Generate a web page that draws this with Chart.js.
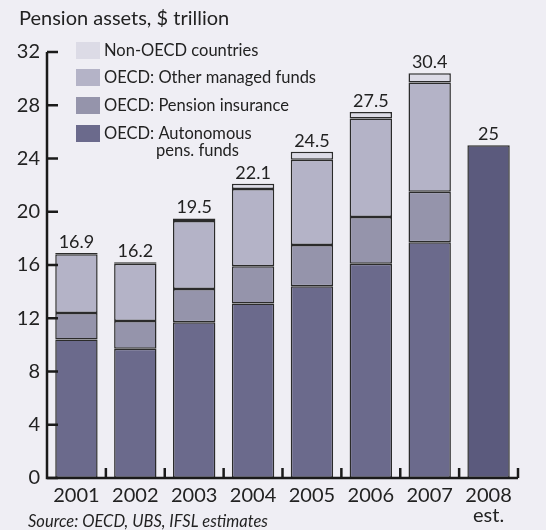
<!DOCTYPE html>
<html><head><meta charset="utf-8">
<script src="https://cdn.jsdelivr.net/npm/chart.js@4"></script>
<style>
html,body{margin:0;padding:0;background:#efeef4;}
#wrap{position:relative;width:546px;height:530px;}
</style></head>
<body><div id="wrap"><canvas id="c" width="546" height="530"></canvas></div>
<script>
const categories = [["2001"],["2002"],["2003"],["2004"],["2005"],["2006"],["2007"],["2008","est."]];
const autonomous = [10.4, 9.7, 11.7, 13.1, 14.4, 16.1, 17.7, null];
const pensionInsurance = [2.0, 2.1, 2.5, 2.8, 3.1, 3.5, 3.8, null];
const otherManaged = [4.4, 4.3, 5.1, 5.8, 6.4, 7.4, 8.2, null];
const nonOECD = [0.1, 0.1, 0.2, 0.4, 0.6, 0.5, 0.7, null];
const estimate2008 = [null, null, null, null, null, null, null, 25];
const totalLabels = ["16.9","16.2","19.5","22.1","24.5","27.5","30.4","25"];
const yTicks = [0,4,8,12,16,20,24,28,32];
const legendLabels = [["Non-OECD countries"],["OECD: Other managed funds"],["OECD: Pension insurance"],["OECD: Autonomous","pens. funds"]];

const FONT = "Lato, 'Noto Sans', sans-serif";
const C_AUTO = '#6b6a8c', C_PI = '#9594ab', C_OM = '#b4b3c7', C_NON = '#dcdbe6', C_EST = '#5b5a7d';
const BORDER = '#2b2b2b';

const bg = {
  id:'bg',
  beforeDraw(chart){
    const ctx = chart.ctx; ctx.save(); ctx.fillStyle='#efeef4';
    ctx.fillRect(0,0,chart.width,chart.height); ctx.restore();
  }
};

const deco = {
  id:'deco',
  afterDraw(chart){
    const ctx = chart.ctx, x = chart.scales.x, y = chart.scales.y, ca = chart.chartArea;
    ctx.save();
    ctx.strokeStyle = '#1a1a1a'; ctx.lineWidth = 2.5;
    ctx.beginPath();
    ctx.moveTo(ca.left, y.getPixelForValue(32)); ctx.lineTo(ca.left, ca.bottom);
    ctx.lineTo(ca.right, ca.bottom); ctx.stroke();
    yTicks.forEach(v => {
      const py = y.getPixelForValue(v);
      ctx.beginPath(); ctx.moveTo(ca.left, py); ctx.lineTo(ca.left + 11, py); ctx.stroke();
    });
    const n = categories.length;
    const step = x.getPixelForValue(1) - x.getPixelForValue(0);
    for (let i = 0; i < n; i++) {
      const px = x.getPixelForValue(i) + step / 2;
      ctx.beginPath(); ctx.moveTo(px, ca.bottom); ctx.lineTo(px, ca.bottom - 10); ctx.stroke();
    }
    ctx.fillStyle = '#222'; ctx.font = '18px ' + FONT; ctx.textAlign = 'center'; ctx.textBaseline = 'alphabetic';
    for (let i = 0; i < n; i++) {
      let tot = 0;
      chart.data.datasets.forEach(ds => { if (ds.data[i] != null) tot += ds.data[i]; });
      ctx.fillText(totalLabels[i], x.getPixelForValue(i), y.getPixelForValue(tot) - 5);
    }
    ctx.textAlign = 'left'; ctx.font = '20px ' + FONT; ctx.fillStyle = '#222';
    ctx.fillText('Pension assets, $ trillion', 19, 25);
    ctx.font = 'italic 16.5px ' + FONT;
    ctx.fillText('Source: OECD, UBS, IFSL estimates', 28, 527);
    const colors = [C_NON, C_OM, C_PI, C_AUTO];
    const tops = [42, 69, 97, 125];
    ctx.font = '16.5px ' + FONT;
    for (let k = 0; k < 4; k++) {
      ctx.fillStyle = colors[k]; ctx.fillRect(76, tops[k], 24, 17);
      ctx.fillStyle = '#222'; ctx.textBaseline = 'middle';
      ctx.fillText(legendLabels[k][0], 104, tops[k] + 9);
      if (legendLabels[k][1]) ctx.fillText(legendLabels[k][1], 156, tops[k] + 26);
    }
    ctx.restore();
  }
};

const ds = (label, data, color) => ({label, data, backgroundColor: color, borderColor: BORDER, borderWidth: 1.5, borderSkipped: false, categoryPercentage: 1, barPercentage: 0.72});

new Chart(document.getElementById('c'), {
  type: 'bar',
  data: {
    labels: categories,
    datasets: [
      ds('OECD: Autonomous pens. funds', autonomous, C_AUTO),
      ds('OECD: Pension insurance', pensionInsurance, C_PI),
      ds('OECD: Other managed funds', otherManaged, C_OM),
      ds('Non-OECD countries', nonOECD, C_NON),
      ds('2008 est.', estimate2008, C_EST)
    ]
  },
  options: {
    responsive: false, animation: false, devicePixelRatio: 1,
    layout: { padding: { top: 52, right: 28, left: 0, bottom: 0 } },
    plugins: { legend: { display: false }, tooltip: { enabled: false } },
    scales: {
      x: {
        stacked: true, offset: true,
        grid: { display: false, drawTicks: false }, border: { display: false },
        ticks: { color: '#222', font: { family: FONT, size: 20, lineHeight: 1.0 }, padding: 8, maxRotation: 0, autoSkip: false },
        afterFit(s){ s.height = 52; }
      },
      y: {
        stacked: true, min: 0, max: 32,
        grid: { display: false, drawTicks: false }, border: { display: false },
        ticks: { stepSize: 4, color: '#222', font: { family: FONT, size: 20 }, padding: 7 },
        afterBuildTicks(s){ s.ticks = yTicks.map(v => ({ value: v })); },
        afterFit(s){ s.width = 47; }
      }
    }
  },
  plugins: [bg, deco]
});
</script></body></html>
